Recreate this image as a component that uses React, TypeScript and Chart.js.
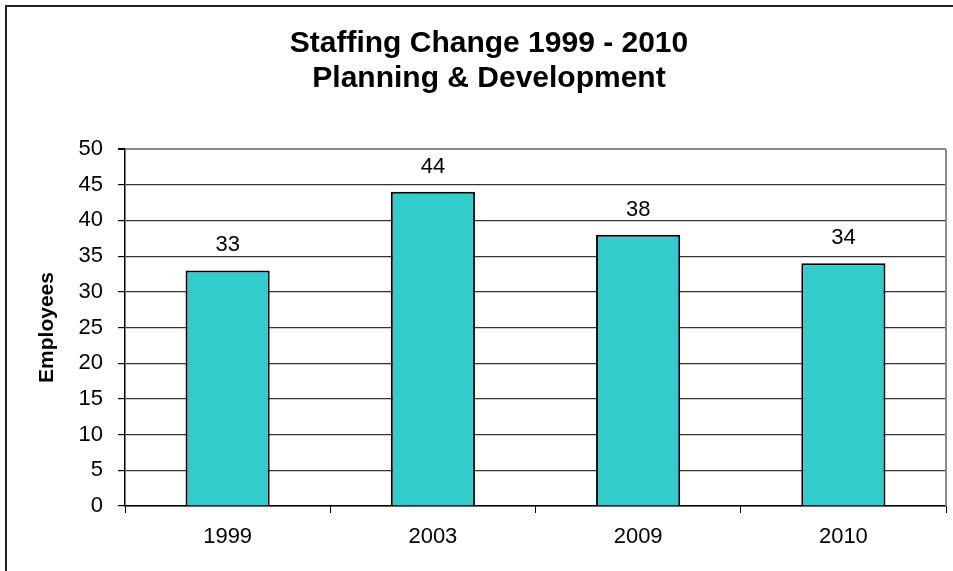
import React, { useEffect, useRef } from "react";
import { Chart, registerables } from "chart.js";

Chart.register(...registerables);

const categories = ["1999", "2003", "2009", "2010"];
const employees = [33, 44, 38, 34];
const titleLines = ["Staffing Change 1999 - 2010", "Planning & Development"];
const yAxisTitle = "Employees";
const yMin = 0;
const yMax = 50;
const yStep = 5;

const FONT = "'Liberation Sans', Arial, Helvetica, sans-serif";

const decorPlugin = {
  id: "decor",
  afterDatasetsDraw(chart: any) {
    const { ctx, chartArea } = chart;
    // plot area right border (gray)
    ctx.save();
    ctx.strokeStyle = "#8a8a8a";
    ctx.lineWidth = 2;
    ctx.beginPath();
    ctx.moveTo(chartArea.right, chartArea.top);
    ctx.lineTo(chartArea.right, chartArea.bottom);
    ctx.stroke();
    ctx.restore();

    // value labels above bars
    const meta = chart.getDatasetMeta(0);
    ctx.save();
    ctx.font = `22px ${FONT}`;
    ctx.fillStyle = "#000";
    ctx.textAlign = "center";
    ctx.textBaseline = "middle";
    meta.data.forEach((bar: any, i: number) => {
      ctx.fillText(String(employees[i]), bar.x, bar.y - 25);
    });
    ctx.restore();

    // chart title
    ctx.save();
    ctx.font = `bold 30px ${FONT}`;
    ctx.fillStyle = "#000";
    ctx.textAlign = "center";
    ctx.textBaseline = "middle";
    titleLines.forEach((line, i) => {
      ctx.fillText(line, 489, 44 + i * 35);
    });
    ctx.restore();
  },
};

export default function App() {
  const canvasRef = useRef<HTMLCanvasElement | null>(null);

  useEffect(() => {
    if (!canvasRef.current) return;
    const chart = new Chart(canvasRef.current, {
      type: "bar",
      data: {
        labels: categories,
        datasets: [
          {
            data: employees,
            backgroundColor: "#33CCCC",
            borderColor: "#000000",
            borderWidth: 2,
            categoryPercentage: 1,
            barPercentage: 0.41,
          },
        ],
      },
      options: {
        animation: false,
        responsive: false,
        maintainAspectRatio: false,
        layout: { padding: { left: 0, right: 7, top: 149, bottom: 0 } },
        plugins: {
          legend: { display: false },
          tooltip: { enabled: false },
          title: { display: false },
        },
        scales: {
          x: {
            offset: true,
            afterFit: (scale: any) => {
              scale.height = 65;
            },
            grid: {
              offset: true,
              drawOnChartArea: false,
              drawTicks: true,
              tickLength: 7,
              color: "#000",
              tickColor: "#000",
            },
            border: { display: true, color: "#000", width: 1.5 },
            ticks: {
              color: "#000",
              font: { family: FONT, size: 22 },
              padding: 11,
            },
          },
          y: {
            min: yMin,
            max: yMax,
            afterFit: (scale: any) => {
              scale.width = 125;
            },
            grid: {
              color: (c: any) => (c.tick && c.tick.value === yMax ? "#8a8a8a" : "#333333"),
              lineWidth: (c: any) => (c.tick && c.tick.value === yMax ? 2 : 1.2),
              tickLength: 7,
              tickColor: "#000",
            },
            border: { display: true, color: "#000", width: 1.5 },
            ticks: {
              stepSize: yStep,
              color: "#000",
              font: { family: FONT, size: 22 },
              padding: 15,
            },
            title: {
              display: true,
              text: yAxisTitle,
              color: "#000",
              font: { family: FONT, size: 21, weight: "bold" },
              padding: { top: 35, bottom: 0 },
            },
          },
        },
      },
      plugins: [decorPlugin],
    });
    return () => chart.destroy();
  }, []);

  return (
    <div
      style={{
        position: "fixed",
        left: 0,
        top: 0,
        width: 953,
        height: 571,
        overflow: "hidden",
        background: "#fff",
      }}
    >
      <div
        style={{
          position: "absolute",
          left: 5,
          top: 5,
          width: 980,
          height: 600,
          border: "2px solid #222",
          boxSizing: "border-box",
        }}
      />
      <canvas
        ref={canvasRef}
        width={953}
        height={571}
        style={{ position: "absolute", left: 0, top: 0, width: 953, height: 571 }}
      />
    </div>
  );
}
